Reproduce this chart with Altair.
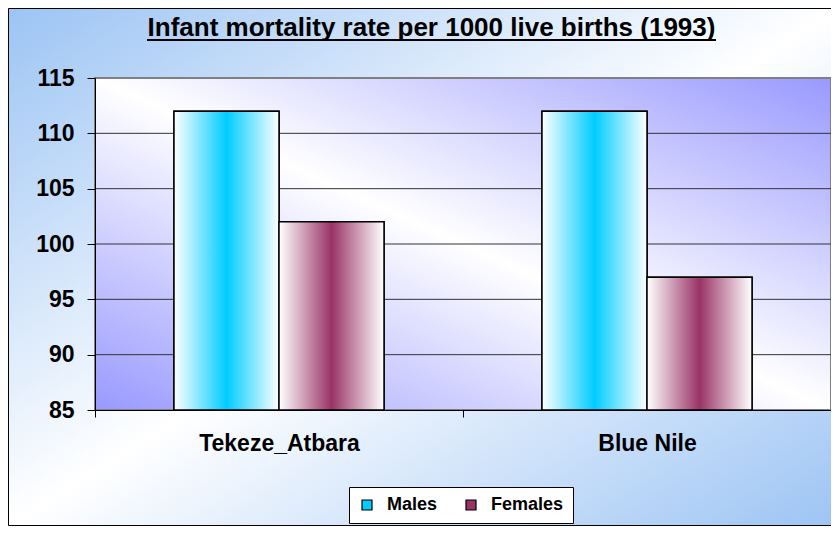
import altair as alt
import pandas as pd

# ---- data ----
categories = ["Tekeze_Atbara", "Blue Nile"]
series_names = ["Males", "Females"]
males = [112, 112]
females = [102, 97]
y_ticks = [85, 90, 95, 100, 105, 110, 115]
title_text = "Infant mortality rate per 1000 live births (1993)"
series_colors = ["#00CCFF", "#993366"]

rows = []
for c, m, f in zip(categories, males, females):
    rows.append({"region": c, "series": series_names[0], "value": m})
    rows.append({"region": c, "series": series_names[1], "value": f})
df = pd.DataFrame(rows)
grid_df = pd.DataFrame({"value": y_ticks[1:-1]})
one = pd.DataFrame({"k": [0]})
title_df = pd.DataFrame({"t": [title_text]})

W, H = 736, 332
FONT = "Liberation Sans"
Y_MIN, Y_MAX = y_ticks[0], y_ticks[-1]


def grad(stops, x1=0, y1=0, x2=1, y2=0):
    return alt.LinearGradient(
        gradient="linear",
        stops=[alt.GradientStop(color=c, offset=o) for o, c in stops],
        x1=x1, y1=y1, x2=x2, y2=y2,
    )


bg_grad = grad([(0, "#9CC4F4"), (0.5, "#FFFFFF"), (1, "#9CC4F4")], 0, 0, 1, 1)
plot_grad = grad([(0, "#9999FF"), (0.5, "#FFFFFF"), (1, "#9999FF")], 0, 1, 1, 0)
male_grad = grad([(0, "#FFFFFF"), (0.5, series_colors[0]), (1, "#FFFFFF")])
female_grad = grad([(0, "#FFFFFF"), (0.5, series_colors[1]), (1, "#FFFFFF")])

x_enc = alt.X(
    "region:N", sort=categories,
    scale=alt.Scale(paddingInner=0, paddingOuter=0),
    axis=alt.Axis(title=None, tickBand="extent", labelFontSize=23, labelFontWeight="bold",
                  labelColor="black", tickSize=7, tickColor="black", domainColor="black",
                  labelPadding=15, grid=False, zindex=1, labelAngle=0, labelFont=FONT),
)
xo_enc = alt.XOffset("series:N", sort=series_names,
                     scale=alt.Scale(paddingInner=0, paddingOuter=0.752))
y_scale = alt.Scale(domain=[Y_MIN, Y_MAX], zero=False, nice=False)
y_axis = alt.Axis(title=None, values=y_ticks, grid=False, labelFontSize=23, labelFontWeight="bold",
                  labelColor="black", tickSize=8, tickColor="black", domainColor="black",
                  labelPadding=13, zindex=1, labelFont=FONT)
y_enc = alt.Y("value:Q", scale=y_scale, axis=y_axis)
y2_enc = alt.datum(Y_MIN)

background = alt.Chart(one).mark_rect(fill=bg_grad, stroke="black", strokeWidth=1).encode(
    x=alt.value(-86.5), x2=alt.value(745), y=alt.value(-69.5), y2=alt.value(447.5)
)
plot_bg = alt.Chart(one).mark_rect(fill=plot_grad, stroke="#808080", strokeWidth=2).encode(
    x=alt.value(0), x2=alt.value(W), y=alt.value(0), y2=alt.value(H)
)
grid = alt.Chart(grid_df).mark_rule(color="#333333", strokeWidth=1).encode(
    x=alt.value(0), x2=alt.value(W), y=y_enc
)
bars_solid = alt.Chart(df).mark_bar(stroke="black", strokeWidth=1.5).encode(
    x=x_enc, xOffset=xo_enc, y=y_enc, y2=y2_enc,
    color=alt.Color(
        "series:N", sort=series_names,
        scale=alt.Scale(domain=series_names, range=series_colors),
        legend=alt.Legend(
            title=None, orient="none", legendX=254, legendY=409, direction="horizontal",
            labelFontSize=18, labelFontWeight="bold", labelColor="black", labelFont=FONT,
            symbolType="square", symbolSize=100, symbolStrokeColor="black", symbolStrokeWidth=1.2,
            symbolOpacity=1, padding=9, strokeColor="black", fillColor="white",
            columnPadding=24, labelOffset=11, zindex=2,
        ),
    ),
)
bars_m = alt.Chart(df).transform_filter(alt.datum.series == series_names[0]).mark_bar(
    fill=male_grad, stroke="black", strokeWidth=1.5
).encode(x=x_enc, xOffset=xo_enc, y=y_enc, y2=y2_enc)
bars_f = alt.Chart(df).transform_filter(alt.datum.series == series_names[1]).mark_bar(
    fill=female_grad, stroke="black", strokeWidth=1.5
).encode(x=x_enc, xOffset=xo_enc, y=y_enc, y2=y2_enc)

title = alt.Chart(title_df).mark_text(
    font=FONT, fontSize=26, fontWeight="bold", fontStyle="normal", color="black",
    align="center", baseline="alphabetic"
).encode(text="t:N", x=alt.value(336.5), y=alt.value(-42))
underline = alt.Chart(one).mark_rule(color="black", strokeWidth=2).encode(
    x=alt.value(52), x2=alt.value(621), y=alt.value(-38)
)

chart = alt.layer(
    background, plot_bg, grid, bars_solid, bars_m, bars_f, title, underline
).properties(
    width=W, height=H,
    autosize=alt.AutoSizeParams(type="none"),
    padding={"left": 87, "top": 70, "right": 0, "bottom": 116},
).configure_view(stroke=None).configure(font=FONT)

chart.save("out.html", embed_options={"renderer": "svg", "actions": False})
